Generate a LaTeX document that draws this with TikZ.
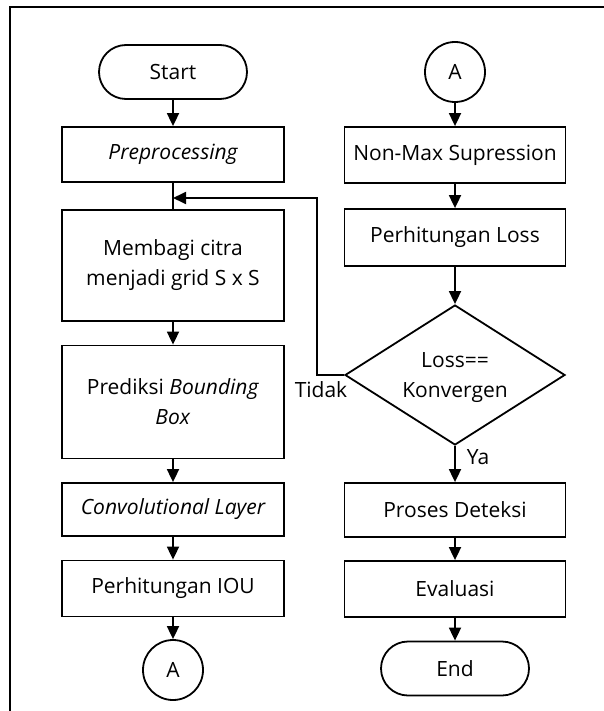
\documentclass[tikz,border=0pt]{standalone}
\usepackage{fontspec}
\setmainfont{Open Sans}
\usetikzlibrary{shapes.geometric,arrows.meta}
\begin{document}
\begin{tikzpicture}[x=1pt,y=-1pt,
  every node/.style={font=\fontsize{21}{30}\selectfont},
  proc/.style={draw,line width=1.8pt,rectangle,minimum width=222pt,inner sep=0pt,align=center},
  term/.style={draw,line width=1.8pt,rectangle,rounded corners=27pt,minimum width=148pt,minimum height=54pt,inner sep=0pt},
  conn/.style={draw,line width=1.8pt,circle,minimum size=60pt,inner sep=0pt},
  dec/.style={draw,line width=1.8pt,diamond,aspect=1.57,minimum width=220pt,minimum height=140pt,inner sep=0pt,align=center},
  arr/.style={line width=1.8pt,-{Triangle[length=13pt,width=12pt]}},
  lbl/.style={inner sep=0pt}]
\useasboundingbox (0,0) rectangle (604,711);
\draw[line width=1.6pt] (10,712) -- (10,7) -- (605,7);
% left column
\node[term] (start) at (173,72) {Start};
\node[proc,minimum height=55pt] (pre) at (173,154.5) {\itshape Preprocessing};
\node[proc,minimum height=111pt] (memb) at (173,265.5) {Membagi citra\\menjadi grid S x S};
\node[proc,minimum height=113pt] (pred) at (173,402) {Prediksi \textit{Bounding}\\\textit{Box}};
\node[proc,minimum height=53pt] (conv) at (173,509.5) {\itshape Convolutional Layer};
\node[proc,minimum height=56pt] (iou) at (173,588.5) {Perhitungan IOU};
\node[conn] (a1) at (173,670) {A};
% right column
\node[conn] (a2) at (455,72) {A};
\node[proc,minimum height=56pt,minimum width=221pt] (nms) at (455,155) {Non-Max Supression};
\node[proc,minimum height=57pt,minimum width=221pt] (loss) at (455,237.5) {Perhitungan Loss};
\node[dec] (conv2) at (455,375) {};
\node[lbl,align=center] (dectext) at (455,378) {Loss==\\Konvergen};
\node[proc,minimum height=54pt,minimum width=221pt] (det) at (455,510) {Proses Deteksi};
\node[proc,minimum height=56pt,minimum width=221pt] (eval) at (455,589) {Evaluasi};
\node[term] (end) at (455,668.5) {End};
% connectors
\draw[arr] (start) -- (pre);
\draw[line width=1.8pt] (pre.south) -- (memb.north);
\draw[arr] (memb) -- (pred);
\draw[arr] (pred) -- (conv);
\draw[arr] (conv) -- (iou);
\draw[arr] (iou) -- (a1);
\draw[arr] (a2) -- (nms);
\draw[arr] (nms) -- (loss);
\draw[arr] (loss) -- (conv2);
\draw[arr] (conv2) -- (det);
\draw[arr] (det) -- (eval);
\draw[arr] (eval) -- (end);
\coordinate (join) at (173,198);
\coordinate (bend) at (317,375);
\draw[arr] (conv2.west) -- (bend) |- (join);
\node[lbl] (tidak) at (321,390) {Tidak};
\node[lbl] (ya) at (478,457) {Ya};
\end{tikzpicture}
\end{document}
